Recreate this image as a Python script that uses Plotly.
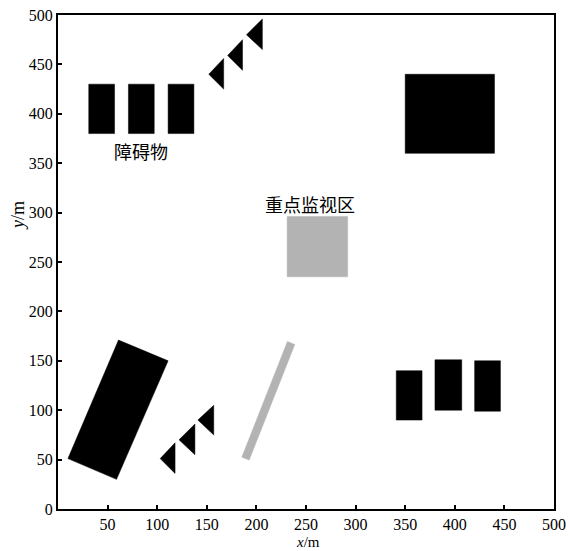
import plotly.graph_objects as go

# ---- data (m) ----
# axis-aligned black obstacles: [x0, x1, y0, y1]
top_rects = [[31, 57, 380, 430], [71, 97, 380, 430], [111, 137, 380, 430]]
big_square = [[350, 440, 360, 440]]
right_rects = [[341, 367, 90, 140], [380, 407, 100, 151], [420, 446, 99, 150]]
# gray key monitoring area
monitor_rect = [231, 292, 235, 296]
# rotated black rectangle (vertices)
rot_rect_x = [61, 111, 59, 10]
rot_rect_y = [171, 150, 30, 51]
# left-pointing triangles: [apex_x, apex_y, base_x, base_y_low, base_y_high]
top_tris = [[152, 440, 167, 425, 456], [171, 459, 186, 444, 475], [190, 480, 206, 465, 496]]
bottom_tris = [[103, 51, 118, 36, 67], [122, 70, 138, 55, 86], [141, 90, 157, 75, 105]]
# gray oblique strip (vertices)
strip_x = [185.3, 192.7, 238.7, 231.3]
strip_y = [52.5, 49.5, 166.5, 169.5]

x_ticks = [50, 100, 150, 200, 250, 300, 350, 400, 450, 500]
y_ticks = [0, 50, 100, 150, 200, 250, 300, 350, 400, 450, 500]

labels = [("障碍物", 84, 362), ("重点监视区", 254, 309)]

BLACK = "#000000"
GRAY = "#b3b3b3"

fig = go.Figure()


def add_poly(xs, ys, color):
    fig.add_trace(go.Scatter(x=xs, y=ys, mode="lines", fill="toself",
                             fillcolor=color, line=dict(color=color, width=0.5),
                             hoverinfo="skip", showlegend=False))


def rects_to_poly(rects):
    xs, ys = [], []
    for x0, x1, y0, y1 in rects:
        xs += [x0, x1, x1, x0, x0, None]
        ys += [y0, y0, y1, y1, y0, None]
    return xs, ys


def tris_to_poly(tris):
    xs, ys = [], []
    for ax, ay, bx, by0, by1 in tris:
        xs += [ax, bx, bx, ax, None]
        ys += [ay, by0, by1, ay, None]
    return xs, ys


for group in (top_rects, big_square, right_rects):
    add_poly(*rects_to_poly(group), BLACK)
add_poly(*rects_to_poly([monitor_rect]), GRAY)
add_poly(rot_rect_x + [rot_rect_x[0]], rot_rect_y + [rot_rect_y[0]], BLACK)
add_poly(*tris_to_poly(top_tris), BLACK)
add_poly(*tris_to_poly(bottom_tris), BLACK)
add_poly(strip_x + [strip_x[0]], strip_y + [strip_y[0]], GRAY)

CJK = "Noto Sans CJK SC"
SERIF = "Liberation Serif, serif"

for text, lx, ly in labels:
    fig.add_annotation(x=lx, y=ly, text=text, showarrow=False,
                       font=dict(family=CJK, size=18, color="black"))

# axis titles
fig.add_annotation(xref="x", yref="paper", x=252, y=-0.066, yanchor="middle",
                   text="<i>x</i>/m", showarrow=False,
                   font=dict(family=SERIF, size=15, color="black"))
fig.add_annotation(xref="paper", yref="y", x=-0.082, y=297, xanchor="center",
                   yanchor="middle", text="<i>y</i>/m", textangle=-90, showarrow=False,
                   font=dict(family=SERIF, size=18, color="black"))

axis_common = dict(showgrid=False, zeroline=False, showline=True, linecolor="black",
                   linewidth=2, mirror=True, ticks="inside", ticklen=4,
                   tickwidth=1.5, tickcolor="black", automargin=False,
                   tickfont=dict(family=SERIF, size=16, color="black"))

fig.update_xaxes(range=[0, 500], tickvals=x_ticks, ticktext=[str(v) for v in x_ticks],
                 **axis_common)
fig.update_yaxes(range=[0, 500], tickvals=y_ticks, ticktext=[str(v) for v in y_ticks],
                 **axis_common)

fig.update_layout(width=570, height=551, margin=dict(l=58, r=16, t=15, b=42),
                  plot_bgcolor="white", paper_bgcolor="white", showlegend=False)

fig.write_html("out.html")
